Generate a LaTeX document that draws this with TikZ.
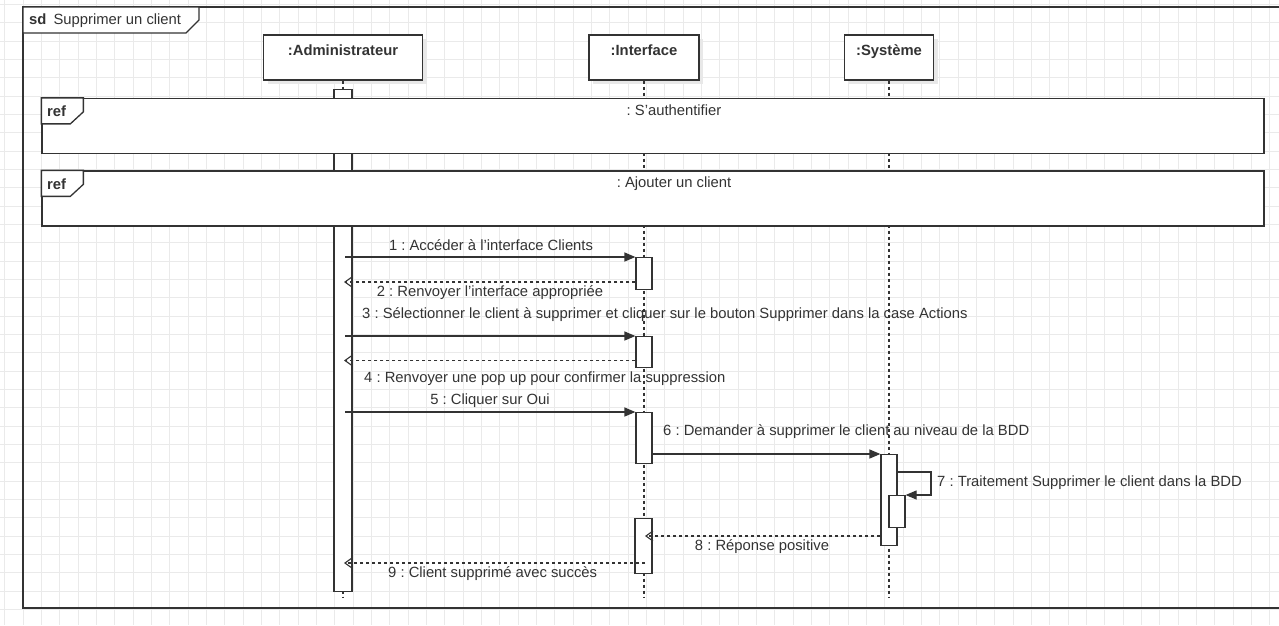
\documentclass[tikz,border=0pt]{standalone}
\usepackage{fontspec}
\setmainfont{Liberation Sans}
\usetikzlibrary{arrows.meta,shadows}
\definecolor{ink}{HTML}{333333}
\definecolor{gridc}{HTML}{EAEAEA}
\frenchspacing
\begin{document}
\begin{tikzpicture}[x=1pt,y=-1pt,
  font=\fontsize{14.8}{17}\selectfont,
  frm/.style={draw=ink, line width=1.3pt},
  head/.style={draw=ink, line width=1.2pt, fill=white, inner sep=0pt,
    text height=20.3pt, text depth=24.7pt, font=\fontsize{14.8}{17}\selectfont\bfseries, text=ink,
    drop shadow={shadow xshift=4pt, shadow yshift=-4pt, fill=black!9, opacity=1}},
  actbox/.style={draw=ink, line width=1.2pt, fill=white, inner sep=0pt, minimum width=16pt, anchor=north},
  life/.style={draw=ink, line width=1.1pt, dash pattern=on 3pt off 3pt},
  msg/.style={draw=ink, line width=1.2pt, -{Triangle[length=11pt,width=9pt]}},
  ret/.style={draw=ink, line width=1.1pt, dash pattern=on 3pt off 3pt, -{Straight Barb[length=7pt,width=10pt]}},
  lbl/.style={inner sep=0pt, text=ink},
  reftab/.style={frm, fill=white, line join=miter},
]
\useasboundingbox (0,0) rectangle (1279,625);
\clip (0,0) rectangle (1279,625);
\fill[white] (0,0) rectangle (1279,625);

% background grid
\foreach \i in {0,...,69} \draw[gridc, line width=0.9pt] (4.8+18.333*\i,0) -- ++(0,625);
\foreach \j in {0,...,34} \draw[gridc, line width=0.9pt] (0,4.4+18.333*\j) -- ++(1279,0);

% sequence diagram frame
\draw[frm] (23,7) rectangle (1300,608);
\draw[frm, fill=white] (23,7) -- (199,7) -- (199,20) -- (186,33) -- (23,33) -- cycle;
\node[lbl, anchor=west] (sdT) at (29,20.5) {\textbf{sd}\hspace{3pt} Supprimer un client};

% lifeline heads
\node[head, minimum width=159pt] (adm) at (343,57.5) {:Administrateur};
\node[head, minimum width=110pt] (ifc) at (644,57.5) {:Interface};
\node[head, minimum width=89pt]  (sys) at (889,57.5) {:Système};

\coordinate (admEnd) at (343,597);
\coordinate (ifcEnd) at (644,597);
\coordinate (sysEnd) at (889,597);
\draw[life] (adm.south) -- (admEnd);
\draw[life] (ifc.south) -- (ifcEnd);
\draw[life] (sys.south) -- (sysEnd);

% administrator activation
\node[actbox, minimum width=18pt, minimum height=502pt] (a0) at (343,89) {};

% interaction uses
\node[frm, fill=white, minimum width=1222pt, minimum height=55pt, inner sep=0pt] (ref1) at (653,126) {};
\node[frm, fill=white, minimum width=1222pt, minimum height=55pt, inner sep=0pt] (ref2) at (653,198.5) {};
\draw[reftab] (ref1.north west) -- ++(42,0) -- ++(0,14) -- ++(-13,12) -- ++(-29,0) -- cycle;
\draw[reftab] (ref2.north west) -- ++(42,0) -- ++(0,14) -- ++(-13,12) -- ++(-29,0) -- cycle;
\node[lbl, anchor=west, font=\fontsize{14.8}{17}\selectfont\bfseries] (ref1T) at (47,111.5) {ref};
\node[lbl, anchor=west, font=\fontsize{14.8}{17}\selectfont\bfseries] (ref2T) at (47,184) {ref};
\node[lbl] (ref1L) at (674,110) {: S'authentifier};
\node[lbl] (ref2L) at (674,184) {: Ajouter un client};

% activations
\node[actbox, minimum height=32pt] (i1) at (644,257) {};
\node[actbox, minimum height=31pt] (i2) at (644,336) {};
\node[actbox, minimum height=51pt] (i3) at (644,412) {};
\node[actbox, minimum height=91pt] (s1) at (889,454) {};
\node[actbox, minimum height=32pt] (s2) at (897,495) {};
\node[actbox, minimum width=17pt, minimum height=55pt] (i4) at (643.5,518) {};

% messages
\coordinate (aX) at (345,0);
\coordinate (aT) at (344,0);
\coordinate (iT) at (645,0);
\coordinate (m2y) at (0,282);
\coordinate (m4y) at (0,360.5);
\coordinate (m7a) at (931,472);
\coordinate (m8y) at (0,536);
\coordinate (m9y) at (0,563);

\draw[msg] (aX |- i1.north) -- (i1.north west);
\draw[ret] (i1.west |- m2y) -- (aT |- m2y);
\draw[msg] (aX |- i2.north) -- (i2.north west);
\draw[ret] (i2.west |- m4y) -- (aT |- m4y);
\draw[msg] (aX |- i3.north) -- (i3.north west);
\draw[msg] (i3.east |- s1.north) -- (s1.north west);
\draw[msg] (s1.east |- m7a) -- (m7a) -- (m7a |- s2.north) -- (s2.north east);
\draw[ret] (s1.west |- m8y) -- (iT |- m8y);
\draw[ret] (iT |- m9y) -- (aT |- m9y);

% message labels
\node[lbl] (l1) at (491,245) {1 : Accéder à l'interface Clients};
\node[lbl] (l2) at (490,293) {2 : Renvoyer l'interface appropriée};
\node[lbl, anchor=west] (l3) at (362,315) {3 : Sélectionner le client à supprimer et cliquer sur le bouton Supprimer dans la case Actions};
\node[lbl, anchor=west] (l4) at (364,378.5) {4 : Renvoyer une pop up pour confirmer la suppression};
\node[lbl] (l5) at (490,401) {5 : Cliquer sur Oui};
\node[lbl, anchor=west] (l6) at (663,432) {6 : Demander à supprimer le client au niveau de la BDD};
\node[lbl, anchor=west] (l7) at (937,483) {7 : Traitement Supprimer le client dans la BDD};
\node[lbl] (l8) at (762,547) {8 : Réponse positive};
\node[lbl, anchor=west] (l9) at (388,574) {9 : Client supprimé avec succès};
\end{tikzpicture}
\end{document}
